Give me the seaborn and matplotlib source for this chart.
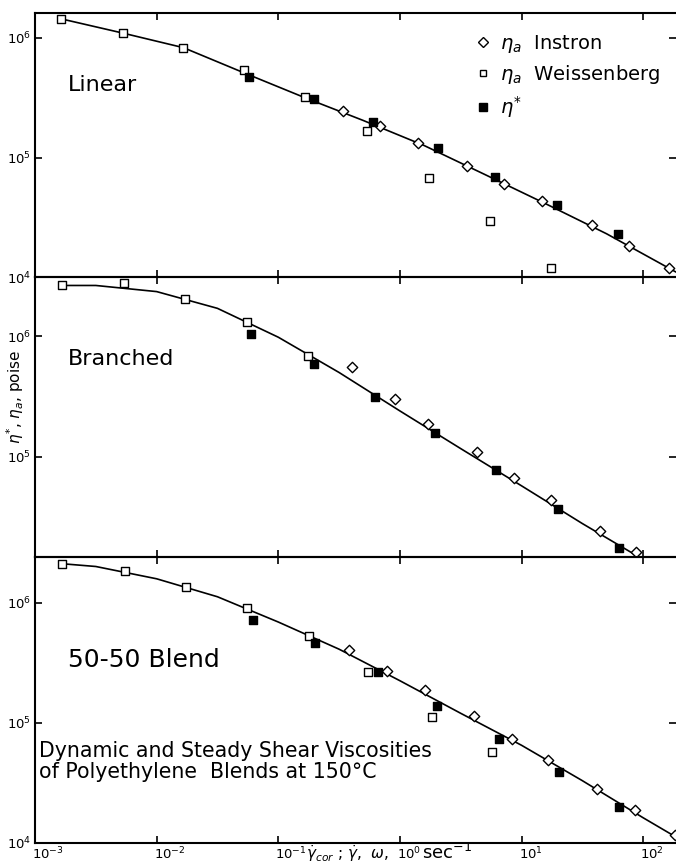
import matplotlib
matplotlib.use("Agg")
import matplotlib.pyplot as plt
import matplotlib.transforms as mtransforms
import seaborn as sns
from matplotlib.lines import Line2D
from matplotlib.ticker import NullLocator, FixedLocator, LogFormatterMathtext, NullFormatter

sns.set_style("ticks")
plt.rcParams['font.family'] = ['DejaVu Sans']
plt.rcParams['mathtext.fontset'] = 'dejavusans'
for key in ['text.color', 'axes.labelcolor', 'xtick.color', 'ytick.color', 'axes.edgecolor']:
    plt.rcParams[key] = 'black'

# ---- Linear ----
lin_weis_x = [1.62e-3, 5.25e-3, 1.66e-2, 5.25e-2, 0.166, 0.54, 1.74, 5.5, 17.4]
lin_weis_y = [1.45e6, 1.10e6, 8.3e5, 5.4e5, 3.2e5, 1.68e5, 6.7e4, 2.95e4, 1.2e4]
lin_dyn_x = [0.0575, 0.195, 0.60, 2.04, 6.0, 19.5, 62]
lin_dyn_y = [4.7e5, 3.1e5, 2.0e5, 1.19e5, 6.9e4, 4.0e4, 2.3e4]
lin_inst_x = [0.34, 0.68, 1.41, 3.55, 7.2, 14.6, 38, 76, 162]
lin_inst_y = [2.45e5, 1.82e5, 1.33e5, 8.5e4, 6.0e4, 4.3e4, 2.7e4, 1.82e4, 1.19e4]
lin_fit_x = [1.62e-3, 5.25e-3, 1.66e-2, 5.25e-2, 0.166, 0.50, 1.58, 5.0, 15.8, 50, 186]
lin_fit_y = [1.45e6, 1.10e6, 8.3e5, 5.1e5, 3.16e5, 2.04e5, 1.26e5, 7.2e4, 4.1e4, 2.3e4, 1.1e4]

# ---- Branched ----
br_weis_x = [1.66e-3, 5.4e-3, 1.7e-2, 5.5e-2, 0.174]
br_weis_y = [2.63e6, 2.75e6, 2.04e6, 1.32e6, 6.9e5]
br_dyn_x = [0.060, 0.195, 0.62, 1.95, 6.2, 20, 63]
br_dyn_y = [1.05e6, 5.9e5, 3.16e5, 1.58e5, 7.8e4, 3.7e4, 1.74e4]
br_inst_x = [0.40, 0.91, 1.70, 4.3, 8.7, 17.4, 44, 87]
br_inst_y = [5.5e5, 3.0e5, 1.88e5, 1.10e5, 6.7e4, 4.4e4, 2.45e4, 1.62e4]
br_fit_x = [1.66e-3, 3.16e-3, 1e-2, 3.16e-2, 0.1, 0.316, 1, 3.16, 10, 31.6, 100]
br_fit_y = [2.63e6, 2.63e6, 2.34e6, 1.70e6, 9.8e5, 5.0e5, 2.40e5, 1.17e5, 5.75e4, 2.8e4, 1.41e4]

# ---- 50-50 Blend ----
bl_weis_x = [1.66e-3, 5.5e-3, 1.74e-2, 5.5e-2, 0.178, 0.55, 1.82, 5.75]
bl_weis_y = [2.11e6, 1.82e6, 1.35e6, 9.1e5, 5.25e5, 2.63e5, 1.12e5, 5.75e4]
bl_dyn_x = [0.062, 0.20, 0.66, 2.0, 6.5, 20.4, 63]
bl_dyn_y = [7.2e5, 4.6e5, 2.63e5, 1.38e5, 7.4e4, 3.9e4, 2.0e4]
bl_inst_x = [0.38, 0.79, 1.62, 4.1, 8.3, 16.6, 42, 85, 182]
bl_inst_y = [4.0e5, 2.7e5, 1.86e5, 1.15e5, 7.4e4, 4.9e4, 2.8e4, 1.88e4, 1.17e4]
bl_fit_x = [1.66e-3, 3.16e-3, 1e-2, 3.16e-2, 0.1, 0.316, 1, 3.16, 10, 31.6, 100, 186]
bl_fit_y = [2.11e6, 2.0e6, 1.58e6, 1.12e6, 6.9e5, 4.1e5, 2.24e5, 1.20e5, 6.5e4, 3.3e4, 1.62e4, 1.12e4]

panels = [
    ("Linear", lin_fit_x, lin_fit_y, lin_weis_x, lin_weis_y, lin_dyn_x, lin_dyn_y, lin_inst_x, lin_inst_y),
    ("Branched", br_fit_x, br_fit_y, br_weis_x, br_weis_y, br_dyn_x, br_dyn_y, br_inst_x, br_inst_y),
    ("50-50 Blend", bl_fit_x, bl_fit_y, bl_weis_x, bl_weis_y, bl_dyn_x, bl_dyn_y, bl_inst_x, bl_inst_y),
]

positions = [[0.0518, 0.679, 0.9482, 0.306],
             [0.0518, 0.3546, 0.9482, 0.3244],
             [0.0518, 0.0232, 0.9482, 0.3314]]
ylims = [(1e4, 1.62e6), (1.48e4, 3.09e6), (1e4, 2.4e6)]
label_y = [0.727, 0.707, 0.64]
label_size = [16, 16, 18]

fig = plt.figure(figsize=(6.76, 8.63), dpi=100)

for i, (name, fx, fy, wx, wy, dx, dy, ix, iy) in enumerate(panels):
    ax = fig.add_axes(positions[i])
    sns.lineplot(x=fx, y=fy, ax=ax, color='black', lw=1.2, sort=False, estimator=None, zorder=2)
    sns.scatterplot(x=wx, y=wy, ax=ax, marker='s', s=32, color='white', edgecolor='black', linewidth=1, zorder=3)
    sns.scatterplot(x=dx, y=dy, ax=ax, marker='s', s=36, color='black', edgecolor='black', linewidth=1, zorder=4)
    sns.scatterplot(x=ix, y=iy, ax=ax, marker='D', s=28, color='white', edgecolor='black', linewidth=1, zorder=3)
    ax.set_xscale('log')
    ax.set_yscale('log')
    ax.set_xlim(1e-3, 186)
    ax.set_ylim(*ylims[i])
    ax.set_facecolor('none')
    ax.spines['right'].set_visible(False)
    for s in ['left', 'top', 'bottom']:
        ax.spines[s].set_linewidth(1.5)
    ax.xaxis.set_major_locator(FixedLocator([1e-3, 1e-2, 1e-1, 1, 10, 100]))
    ax.yaxis.set_major_locator(FixedLocator([1e4, 1e5, 1e6]))
    ax.xaxis.set_minor_locator(NullLocator())
    ax.yaxis.set_minor_locator(NullLocator())
    ax.tick_params(which='major', direction='in', length=5, width=1.2,
                   top=True, bottom=True, left=True, right=True, labelsize=9.5, pad=3)
    ax.tick_params(axis='x', pad=2)
    ax.yaxis.set_major_formatter(LogFormatterMathtext())
    if i < 2:
        ax.xaxis.set_major_formatter(NullFormatter())
    else:
        ax.xaxis.set_major_formatter(LogFormatterMathtext())
        shift = mtransforms.ScaledTranslation(-3 / 100, 0, fig.dpi_scale_trans)
        for lab in ax.get_xticklabels():
            lab.set_horizontalalignment('left')
            lab.set_transform(lab.get_transform() + shift)
    ax.set_xlabel('')
    ax.set_ylabel('')
    ax.text(0.051, label_y[i], name, transform=ax.transAxes, fontsize=label_size[i], va='center', ha='left')
    if i == 0:
        handles = [
            Line2D([], [], marker='D', ls='none', mfc='white', mec='black', ms=5, mew=1),
            Line2D([], [], marker='s', ls='none', mfc='white', mec='black', ms=5, mew=1),
            Line2D([], [], marker='s', ls='none', mfc='black', mec='black', ms=5.5, mew=1),
        ]
        labels = [r'$\eta_a$  Instron', r'$\eta_a$  Weissenberg', r'$\eta^{*}$']
        ax.legend(handles, labels, loc='upper left', bbox_to_anchor=(0.683, 0.925), frameon=False,
                  fontsize=14, handlelength=1.0, handletextpad=0.4, labelspacing=0.42,
                  borderpad=0, borderaxespad=0)
    if i == 2:
        ax.text(0.006, 0.285, "Dynamic and Steady Shear Viscosities\nof Polyethylene  Blends at 150\u00b0C",
                transform=ax.transAxes, fontsize=14.8, va='center', ha='left', linespacing=1.05)

fig.text(15 / 676, 1 - 397 / 863, r'$\eta^{*}$, $\eta_a$, poise', rotation=90, fontsize=11,
         ha='center', va='center')
fig.text(306 / 676, 1 - 854 / 863, r'$\dot{\gamma}_{cor}$ ; $\dot{\gamma}$,  $\omega$,', fontsize=11,
         ha='left', va='center')
fig.text(422 / 676, 1 - 853 / 863, r'sec$^{-1}$', fontsize=13, ha='left', va='center')

fig.savefig('out.png', dpi=100)
plt.close(fig)
